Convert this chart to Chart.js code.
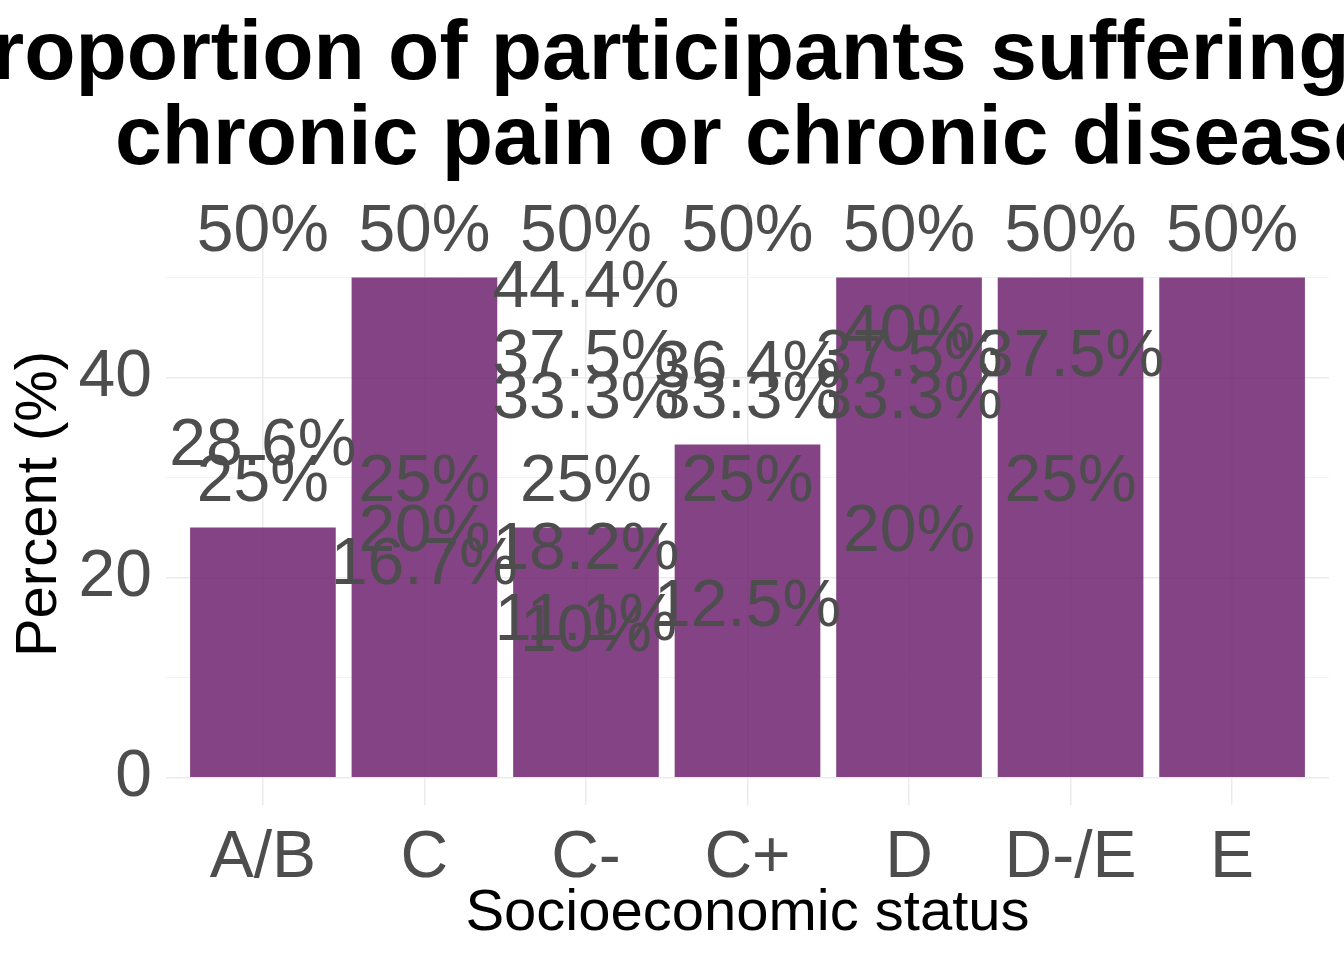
<!DOCTYPE html>
<html>
<head>
<meta charset="utf-8">
<script src="https://cdn.jsdelivr.net/npm/chart.js@4"></script>
<style>body{margin:0;background:#fff}canvas{display:block}</style>
</head>
<body>
<canvas id="c" width="1344" height="960" style="width:1344px;height:960px"></canvas>
<script>
// Data
const categories = ['A/B', 'C', 'C-', 'C+', 'D', 'D-/E', 'E'];
const barValues = [25, 50, 25, 33.3, 50, 50, 50];
// every label printed above each bar (overlapping in the original)
const labelAB = [50, 28.6, 25];
const labelC = [50, 25, 20, 16.7];
const labelCm = [50, 44.4, 37.5, 33.3, 25, 18.2, 11.1, 10];
const labelCp = [50, 36.4, 33.3, 25, 12.5];
const labelD = [50, 40, 37.5, 33.3, 20];
const labelDE = [50, 37.5, 25];
const labelE = [50];
const labelSets = [labelAB, labelC, labelCm, labelCp, labelD, labelDE, labelE];
const yTicks = [0, 10, 20, 30, 40, 50];

const grey = '#4d4d4d';

const overlay = {
    id: 'overlay',
    afterDatasetsDraw(chart) {
        const { ctx, scales: { x, y }, chartArea } = chart;
        ctx.save();
        ctx.fillStyle = grey;
        ctx.font = '66px Arial, "Liberation Sans"';
        ctx.textAlign = 'center';
        ctx.textBaseline = 'middle';
        labelSets.forEach((set, i) => {
            set.forEach(v => {
                ctx.fillText(v + '%', x.getPixelForValue(i), y.getPixelForValue(v) - 45);
            });
        });
        // title
        const cx = (chartArea.left + chartArea.right) / 2;
        ctx.fillStyle = '#000';
        ctx.font = 'bold 84px Arial, "Liberation Sans"';
        ctx.textBaseline = 'alphabetic';
        ctx.fillText('Proportion of participants suffering from', cx, 79);
        ctx.fillText('chronic pain or chronic disease', cx, 164);
        // axis titles
        ctx.font = '58px Arial, "Liberation Sans"';
        ctx.textBaseline = 'middle';
        ctx.fillText('Socioeconomic status', cx, 914);
        ctx.translate(40, (chartArea.top + chartArea.bottom) / 2);
        ctx.rotate(-Math.PI / 2);
        ctx.fillText('Percent (%)', 0, 0);
        ctx.restore();
    }
};

new Chart(document.getElementById('c'), {
    type: 'bar',
    data: {
        datasets: [{
            data: barValues.map((v, i) => ({ x: i, y: v })),
            backgroundColor: 'rgba(118, 47, 119, 0.9)',
            barThickness: 145
        }]
    },
    options: {
        responsive: false,
        devicePixelRatio: 1,
        animation: false,
        layout: { padding: { top: 203, left: 0, right: 15, bottom: 0 } },
        plugins: { legend: { display: false }, tooltip: { enabled: false }, title: { display: false } },
        scales: {
            x: {
                type: 'linear',
                offset: false,
                min: -0.6,
                max: 6.6,
                afterBuildTicks: s => { s.ticks = categories.map((c, i) => ({ value: i })); },
                afterFit: s => { s.height = 155; },
                ticks: {
                    callback: v => categories[v],
                    font: { size: 66, family: 'Arial' },
                    color: grey,
                    padding: 14
                },
                grid: { offset: false, color: '#ebebeb', lineWidth: 1.5, drawTicks: false },
                border: { display: false }
            },
            y: {
                min: -2.75,
                max: 57.5,
                afterBuildTicks: s => { s.ticks = yTicks.map(v => ({ value: v })); },
                afterFit: s => { s.width = 166; },
                ticks: {
                    callback: v => (v % 20 === 0 ? String(v) : ''),
                    font: { size: 66, family: 'Arial' },
                    color: grey,
                    padding: 14
                },
                grid: {
                    color: c => (c.tick && c.tick.value % 20 === 0 ? '#ebebeb' : '#f3f3f3'),
                    lineWidth: c => (c.tick && c.tick.value % 20 === 0 ? 1.6 : 1),
                    drawTicks: false
                },
                border: { display: false }
            }
        }
    },
    plugins: [overlay]
});
</script>
</body>
</html>
